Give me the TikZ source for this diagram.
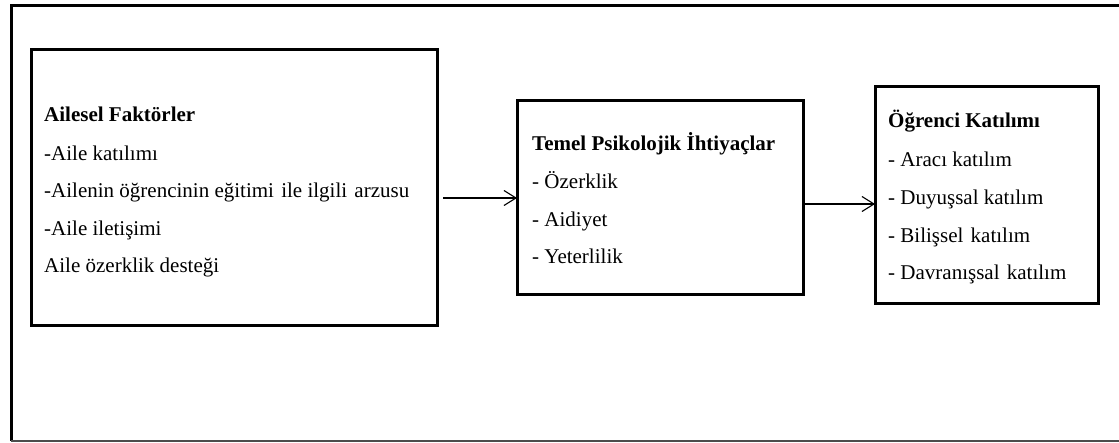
\documentclass[tikz,border=0pt]{standalone}
\usepackage{fontspec}
\setmainfont{Liberation Serif}
\usetikzlibrary{arrows.meta}
\begin{document}
\begin{tikzpicture}[x=1pt,y=-1pt,
  box/.style={draw=black,line width=3pt,inner sep=0pt,outer sep=0pt},
  txt/.style={anchor=base west,inner sep=0pt,font=\fontsize{21}{25}\selectfont},
  hdr/.style={txt,font=\fontsize{21}{25}\selectfont\bfseries},
  arr/.style={line width=1.1pt,-{Straight Barb[length=12pt,width=15pt,line width=1.1pt]}}]
\useasboundingbox (0,0) rectangle (1119,443);
\fill[white] (0,0) rectangle (1119,443);
% outer frame
\draw[line width=3pt] (11,441) -- (11,6) -- (1119,6);
\draw[line width=1.2pt,black!70] (11,441) -- (1119,441);
% boxes
\node[box,minimum width=406pt,minimum height=276pt] (b1) at (234,188) {};
\node[box,minimum width=286pt,minimum height=194pt] (b2) at (660,198) {};
\node[box,minimum width=223pt,minimum height=217pt] (b3) at (986.5,195.5) {};
% box 1 text
\node[hdr] (t10) at (44,122) {Ailesel Faktörler};
\node[txt] (t11) at (44,161) {-Aile katılımı};
\node[txt] (t12) at (44,198) {-Ailenin öğrencinin eğitimi\hspace{2pt} ile ilgili\hspace{2pt} arzusu};
\node[txt] (t13) at (44,236) {-Aile iletişimi};
\node[txt] (t14) at (44,273) {Aile özerklik desteği};
% box 2 text
\node[hdr] (t20) at (532,151) {Temel Psikolojik İhtiyaçlar};
\node[txt] (t21) at (532,189) {- Özerklik};
\node[txt] (t22) at (532,227) {- Aidiyet};
\node[txt] (t23) at (532,264) {- Yeterlilik};
% box 3 text
\node[hdr] (t30) at (888,128) {Öğrenci Katılımı};
\node[txt] (t31) at (888,167) {- Aracı katılım};
\node[txt] (t32) at (888,205) {- Duyuşsal katılım};
\node[txt] (t33) at (888,243) {- Bilişsel\hspace{2pt} katılım};
\node[txt] (t34) at (888,280) {- Davranışsal\hspace{2pt} katılım};
% arrows
\coordinate (a1) at (443,198);
\coordinate (a2) at (803,204);
\draw[arr] (a1) -- (a1 -| b2.west);
\draw[arr] (a2) -- (a2 -| b3.west);
\end{tikzpicture}
\end{document}
